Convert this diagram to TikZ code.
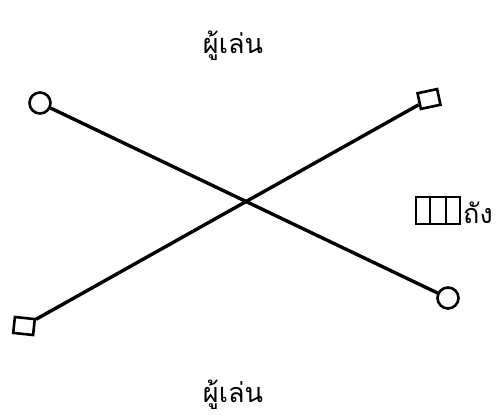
\documentclass[tikz,border=0pt]{standalone}
\usepackage{fontspec}
\newfontfamily\thaifont[Script=Thai]{Loma}
\begin{document}
\begin{tikzpicture}[x=1pt,y=-1pt,
  stick/.style={line width=3.4pt},
  endcircle/.style={circle,draw,line width=2.6pt,minimum size=21pt,inner sep=0pt},
  endsquare/.style={rectangle,draw,line width=2.6pt,minimum width=20pt,minimum height=16pt,inner sep=0pt},
  lbl/.style={font=\thaifont\fontsize{27}{30}\selectfont,inner sep=0pt}]
\useasboundingbox (0,0) rectangle (496,418);
\node[endcircle] (c1) at (40,103) {};
\node[endcircle] (c2) at (448,298) {};
\node[endsquare,rotate=12] (s1) at (429,99) {};
\node[endsquare,rotate=-6] (s2) at (24,326) {};
\draw[stick] (c1) -- (c2);
\draw[stick] (s2) -- (s1);
\node[lbl,anchor=base] (ptop) at (233,53) {ผู้เล่น};
\node[lbl,anchor=base] (pbot) at (233,402) {ผู้เล่น};
\node[draw,line width=2pt,minimum width=44pt,minimum height=27pt,inner sep=0pt] (tank) at (438,210.5) {};
\draw[line width=1.6pt] ([xshift=-8pt]tank.north) -- ([xshift=-8pt]tank.south);
\draw[line width=1.6pt] ([xshift=8pt]tank.north) -- ([xshift=8pt]tank.south);
\node[lbl,anchor=base west] (tlabel) at (463,223) {ถัง};
\end{tikzpicture}
\end{document}
